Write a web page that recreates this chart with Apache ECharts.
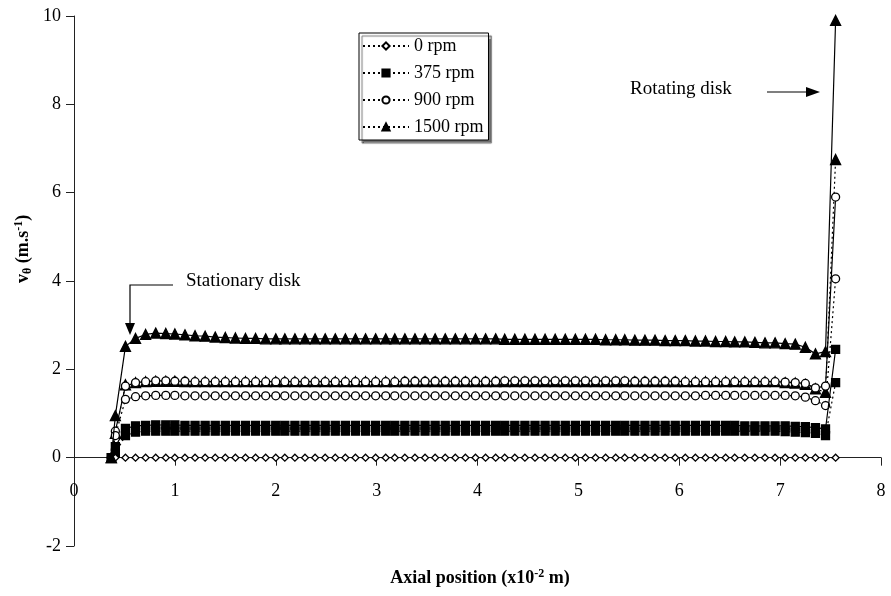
<!DOCTYPE html>
<html>
<head>
<meta charset="utf-8">
<script src="https://cdn.jsdelivr.net/npm/echarts@6/dist/echarts.min.js"></script>
<style>html,body{margin:0;padding:0;background:#fff}#chart{width:891px;height:596px}</style>
</head>
<body>
<div id="chart"></div>
<script>
// Axial positions (x10^-2 m)
var xPos = [0.37,
  0.41,0.51,0.61,0.71,0.81,0.91,1.00,1.10,1.20,1.30,
  1.40,1.50,1.60,1.70,1.80,1.90,2.00,2.09,2.19,2.29,
  2.39,2.49,2.59,2.69,2.79,2.89,2.99,3.09,3.18,3.28,
  3.38,3.48,3.58,3.68,3.78,3.88,3.98,4.08,4.18,4.27,
  4.37,4.47,4.57,4.67,4.77,4.87,4.97,5.07,5.17,5.27,
  5.37,5.46,5.56,5.66,5.76,5.86,5.96,6.06,6.16,6.26,
  6.36,6.46,6.55,6.65,6.75,6.85,6.95,7.05,7.15,7.25,
  7.35,7.45,7.55];

var v0 = [0,0,0,0,0,0,0,0,0,0,
  0,0,0,0,0,0,0,0,0,0,
  0,0,0,0,0,0,0,0,0,0,
  0,0,0,0,0,0,0,0,0,0,
  0,0,0,0,0,0,0,0,0,0,
  0,0,0,0,0,0,0,0,0,0,
  0,0,0,0,0,0,0,0,
  0,0,0,0,0,0];

var v375a = [0,0.25,0.66,0.72,0.73,0.74,0.74,0.74,0.73,0.73,
  0.73,0.73,0.73,0.73,0.73,0.73,0.73,0.73,0.73,0.73,
  0.73,0.73,0.73,0.73,0.73,0.73,0.73,0.73,0.73,0.73,
  0.73,0.73,0.73,0.73,0.73,0.73,0.73,0.73,0.73,0.73,
  0.73,0.73,0.73,0.73,0.73,0.73,0.73,0.73,0.73,0.73,
  0.73,0.73,0.73,0.73,0.73,0.73,0.73,0.73,0.73,0.73,
  0.73,0.73,0.73,0.73,0.72,0.72,0.72,0.72,
  0.72,0.71,0.70,0.68,0.65,2.45];

var v375b = [0,0.10,0.50,0.58,0.60,0.60,0.60,0.60,0.60,0.60,
  0.60,0.60,0.60,0.60,0.60,0.60,0.60,0.60,0.60,0.60,
  0.60,0.60,0.60,0.60,0.60,0.60,0.60,0.60,0.60,0.60,
  0.60,0.60,0.60,0.60,0.60,0.60,0.60,0.60,0.60,0.60,
  0.60,0.60,0.60,0.60,0.60,0.60,0.60,0.60,0.60,0.60,
  0.60,0.60,0.60,0.60,0.60,0.60,0.60,0.60,0.60,0.60,
  0.60,0.60,0.60,0.60,0.60,0.60,0.60,0.60,
  0.59,0.58,0.57,0.55,0.50,1.70];

var v900a = [0,0.60,1.62,1.70,1.72,1.74,1.74,1.73,1.73,1.72,
  1.72,1.72,1.72,1.72,1.72,1.72,1.72,1.72,1.72,1.72,
  1.72,1.72,1.72,1.72,1.72,1.72,1.72,1.72,1.72,1.72,
  1.73,1.73,1.73,1.73,1.73,1.73,1.73,1.73,1.73,1.73,
  1.74,1.74,1.74,1.74,1.74,1.74,1.74,1.74,1.74,1.74,
  1.74,1.74,1.74,1.73,1.73,1.73,1.73,1.73,1.72,1.72,
  1.72,1.72,1.72,1.72,1.72,1.72,1.72,1.72,
  1.71,1.70,1.68,1.58,1.62,5.90];

var v900b = [0,0.50,1.32,1.38,1.40,1.41,1.41,1.41,1.40,1.40,
  1.40,1.40,1.40,1.40,1.40,1.40,1.40,1.40,1.40,1.40,
  1.40,1.40,1.40,1.40,1.40,1.40,1.40,1.40,1.40,1.40,
  1.40,1.40,1.40,1.40,1.40,1.40,1.40,1.40,1.40,1.40,
  1.40,1.40,1.40,1.40,1.40,1.40,1.40,1.40,1.40,1.40,
  1.40,1.40,1.40,1.40,1.40,1.40,1.40,1.40,1.40,1.40,
  1.41,1.41,1.41,1.41,1.41,1.41,1.41,1.41,
  1.41,1.40,1.37,1.29,1.18,4.05];

var v1500a = [0,0.95,2.52,2.70,2.79,2.82,2.81,2.80,2.78,2.76,
  2.75,2.73,2.72,2.71,2.70,2.70,2.69,2.69,2.69,2.69,
  2.69,2.69,2.69,2.69,2.69,2.69,2.69,2.69,2.69,2.69,
  2.69,2.69,2.69,2.69,2.69,2.69,2.69,2.69,2.69,2.69,
  2.68,2.68,2.68,2.68,2.68,2.68,2.68,2.68,2.68,2.68,
  2.67,2.67,2.67,2.66,2.66,2.66,2.65,2.65,2.65,2.64,
  2.64,2.63,2.63,2.62,2.62,2.61,2.60,2.60,
  2.58,2.57,2.50,2.35,2.40,9.90];

var v1500b = [0,0.55,1.65,1.70,1.72,1.73,1.73,1.73,1.72,1.72,
  1.72,1.72,1.72,1.72,1.72,1.72,1.72,1.72,1.72,1.72,
  1.72,1.72,1.72,1.72,1.72,1.72,1.72,1.72,1.72,1.72,
  1.72,1.72,1.72,1.72,1.72,1.72,1.72,1.72,1.72,1.72,
  1.72,1.72,1.72,1.72,1.72,1.72,1.72,1.72,1.72,1.72,
  1.72,1.72,1.72,1.72,1.72,1.72,1.72,1.72,1.72,1.72,
  1.72,1.72,1.72,1.72,1.72,1.72,1.72,1.72,
  1.70,1.69,1.66,1.56,1.48,6.75];

var legendNames = ['0 rpm', '375 rpm', '900 rpm', '1500 rpm'];
var xTicks = [0, 8, 1];
var yTicks = [-2, 10, 2];

function pairs(vals) { return xPos.map(function (x, i) { return [x, vals[i]]; }); }

var FONT = 'Liberation Serif';
var DOT = [2, 3];

function mk(name, vals, symbol, size, fill, ltype, z) {
  return {
    name: name, type: 'line', data: pairs(vals),
    symbol: symbol, symbolSize: size, showSymbol: true,
    lineStyle: { color: '#000', width: 1.2, type: ltype },
    itemStyle: { color: fill, borderColor: '#000', borderWidth: 1.3 },
    emphasis: { disabled: true }, z: z, animation: false
  };
}

var chart = echarts.init(document.getElementById('chart'), null, { renderer: 'canvas' });
chart.setOption({
  backgroundColor: '#fff',
  animation: false,
  grid: { left: 74, right: 10, top: 16, bottom: 50, containLabel: false },
  xAxis: {
    type: 'value', min: xTicks[0], max: xTicks[1], interval: xTicks[2],
    axisLine: { onZero: true, lineStyle: { color: '#222', width: 1 } },
    axisTick: { show: true, length: 8, lineStyle: { color: '#222' } },
    axisLabel: { margin: -64, color: '#000', fontFamily: FONT, fontSize: 18 },
    splitLine: { show: false }
  },
  yAxis: {
    type: 'value', min: yTicks[0], max: yTicks[1], interval: yTicks[2],
    axisLine: { show: true, onZero: false, lineStyle: { color: '#222', width: 1 } },
    axisTick: { show: true, length: 8, lineStyle: { color: '#222' } },
    axisLabel: { margin: 13, color: '#000', fontFamily: FONT, fontSize: 18 },
    splitLine: { show: false }
  },
  legend: {
    data: legendNames, orient: 'vertical', left: 359, top: 33,
    itemWidth: 46, itemHeight: 9, itemGap: 7,
    padding: [3, 5, 3, 3],
    borderColor: '#000', borderWidth: 1, backgroundColor: '#fff',
    shadowColor: 'rgba(0,0,0,0.55)', shadowOffsetX: 3, shadowOffsetY: 3, shadowBlur: 1,
    textStyle: { fontFamily: FONT, fontSize: 18, color: '#000', lineHeight: 20 },
    selectedMode: false
  },
  series: [
    mk('1500 rpm', v1500b, 'triangle', 10, '#000', DOT, 2),
    mk('900 rpm b', v900a, 'circle', 8, '#fff', 'solid', 3),
    mk('900 rpm', v900b, 'circle', 8, '#fff', DOT, 3),
    mk('375 rpm', v375b, 'rect', 8, '#000', DOT, 4),
    mk('375 rpm b', v375a, 'rect', 8, '#000', 'solid', 4),
    mk('0 rpm', v0, 'diamond', 7, '#fff', DOT, 5),
    mk('1500 rpm b', v1500a, 'triangle', 10, '#000', 'solid', 6)
  ],
  graphic: [
    { type: 'text', x: 480, y: 578, z: 10,
      style: { text: '{b|Axial position (x10}{p|-2}{b| m)}', fill: '#000', align: 'center', verticalAlign: 'middle',
        rich: { b: { fontFamily: FONT, fontSize: 18, fontWeight: 'bold', fill: '#000' },
                p: { fontFamily: FONT, fontSize: 12, fontWeight: 'bold', fill: '#000', padding: [0,0,9,0] } } } },
    { type: 'text', x: 23, y: 249, rotation: Math.PI / 2, z: 10,
      style: { text: '{b|v}{s|θ}{b| (m.s}{p|-1}{b|)}', fill: '#000', align: 'center', verticalAlign: 'middle',
        rich: { b: { fontFamily: FONT, fontSize: 18, fontWeight: 'bold', fill: '#000' },
                s: { fontFamily: FONT, fontSize: 12, fontWeight: 'bold', fill: '#000', padding: [9,0,0,0] },
                p: { fontFamily: FONT, fontSize: 12, fontWeight: 'bold', fill: '#000', padding: [0,0,9,0] } } } },
    { type: 'text', left: 186, top: 272, z: 10,
      style: { text: 'Stationary disk', fill: '#000', font: '19px "Liberation Serif"' } },
    { type: 'polyline', z: 10, shape: { points: [[173, 285], [130, 285], [130, 325]] },
      style: { stroke: '#000', lineWidth: 1.2, fill: null } },
    { type: 'polygon', z: 10, shape: { points: [[125, 323], [135, 323], [130, 335]] },
      style: { fill: '#000' } },
    { type: 'text', left: 630, top: 80, z: 10,
      style: { text: 'Rotating disk', fill: '#000', font: '19px "Liberation Serif"' } },
    { type: 'line', z: 10, shape: { x1: 767, y1: 92, x2: 808, y2: 92 },
      style: { stroke: '#000', lineWidth: 1.2 } },
    { type: 'polygon', z: 10, shape: { points: [[806, 87], [806, 97], [820, 92]] },
      style: { fill: '#000' } }
  ]
});
</script>
</body>
</html>
